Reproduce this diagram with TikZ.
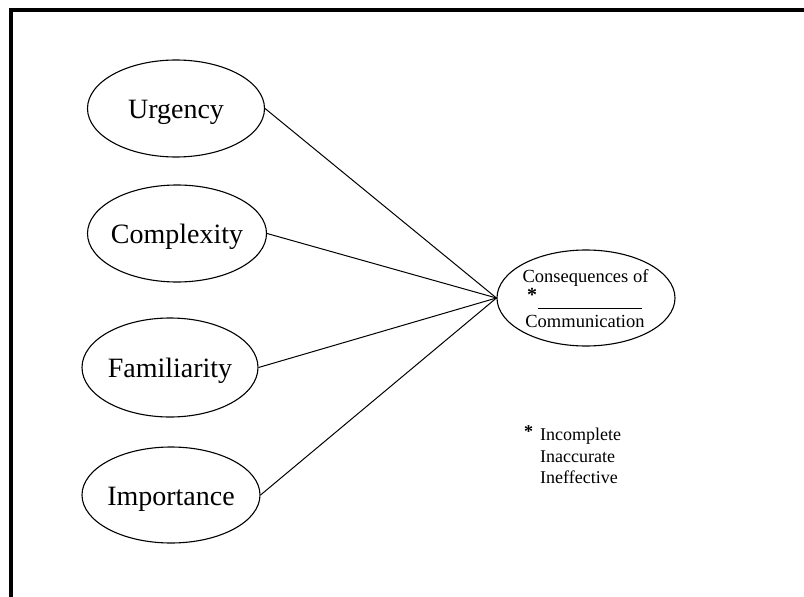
\documentclass[tikz,border=0pt]{standalone}
\usepackage{fontspec}
\setmainfont{Liberation Serif}
\usetikzlibrary{shapes.geometric}
\begin{document}
\begin{tikzpicture}[x=1pt,y=-1pt,
  oval/.style={draw, ellipse, line width=1.1pt, minimum width=177pt, minimum height=97pt, inner sep=0pt},
  ovaltext/.style={inner sep=0pt, text height=22pt, text depth=2pt, font=\fontsize{28}{30}\selectfont},
  link/.style={line width=1pt},
  small/.style={inner sep=0pt, font=\fontsize{18.5}{20}\selectfont},
  note/.style={inner sep=0pt, anchor=base west, font=\fontsize{18}{20}\selectfont}]
\useasboundingbox (0,0) rectangle (804,597);
\draw[line width=4pt] (10.5,597) -- (10.5,9.5) -- (804,9.5);
\node[oval, label={[ovaltext]center:Urgency}] (urg) at (176,108.5) {};
\node[oval, minimum width=179pt, label={[ovaltext]center:Complexity}] (cpx) at (177,233.5) {};
\node[oval, minimum width=176pt, minimum height=99pt, label={[ovaltext]center:Familiarity}] (fam) at (170,367.5) {};
\node[oval, minimum width=178pt, minimum height=96pt, label={[ovaltext]center:Importance}] (imp) at (171,495) {};
\node[oval, minimum width=178pt, minimum height=96pt] (cons) at (586,298) {};
\node[small, anchor=base] (c1) at (585.5,282) {Consequences of};
\node[small, font=\fontsize{20}{20}\selectfont\bfseries] (ast) at (532,295) {*};
\coordinate (ul1) at (538,308);
\coordinate (ul2) at (642,308);
\draw[line width=0.8pt] (ul1) -- (ul2);
\node[small, anchor=base] (c2) at (585,327) {Communication};
\node[note, font=\fontsize{18}{20}\selectfont\bfseries] (n0) at (524,437) {*};
\node[note] (n1) at (540,440) {Incomplete};
\node[note] (n2) at (540,462) {Inaccurate};
\node[note] (n3) at (540,483) {Ineffective};
\draw[link] (urg.east) -- (cons.west);
\draw[link] (cpx.east) -- (cons.west);
\draw[link] (fam.east) -- (cons.west);
\draw[link] (imp.east) -- (cons.west);
\end{tikzpicture}
\end{document}
